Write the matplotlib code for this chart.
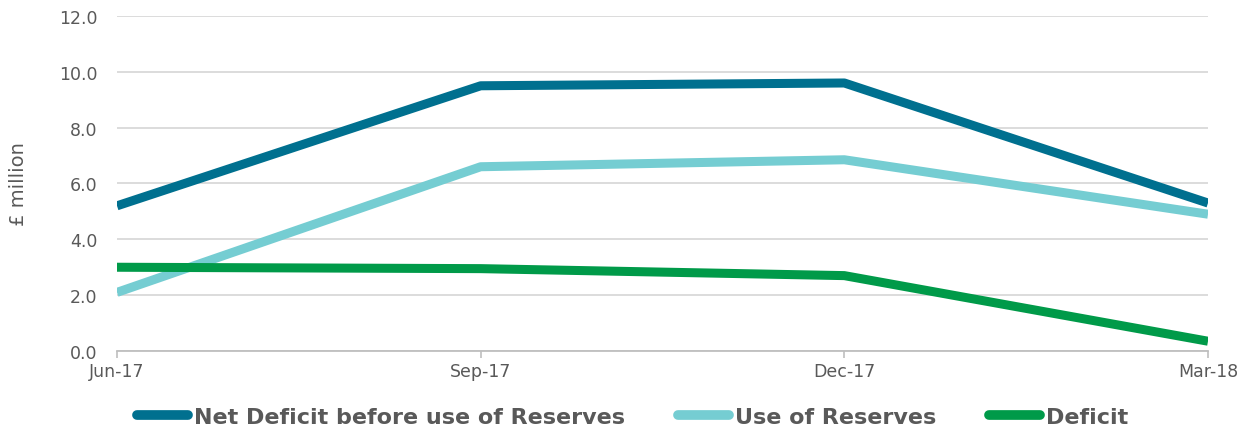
import matplotlib
matplotlib.use("Agg")
import matplotlib.pyplot as plt

categories = ["Jun-17", "Sep-17", "Dec-17", "Mar-18"]
net_deficit = [5.2, 9.5, 9.6, 5.3]
use_of_reserves = [2.1, 6.6, 6.85, 4.9]
deficit = [3.0, 2.95, 2.7, 0.35]
yticks = [0.0, 2.0, 4.0, 6.0, 8.0, 10.0, 12.0]

plt.rcParams['font.family'] = ['DejaVu Sans']

fig = plt.figure(figsize=(12.5, 4.31), dpi=100)
ax = fig.add_axes([0.0936, 0.1833, 0.8728, 0.7773])

x = list(range(len(categories)))
ax.plot(x, net_deficit, color="#00708F", lw=6.5, label="Net Deficit before use of Reserves", solid_capstyle="butt")
ax.plot(x, use_of_reserves, color="#75CDD2", lw=6.5, label="Use of Reserves", solid_capstyle="butt")
ax.plot(x, deficit, color="#009A49", lw=6.5, label="Deficit", solid_capstyle="butt")

ax.set_xlim(0, 3)
ax.set_ylim(0, 12)
ax.set_yticks(yticks)
ax.set_yticklabels([f"{v:.1f}" for v in yticks], color="#595959", fontsize=12.5)
ax.set_xticks(x)
ax.set_xticklabels(categories, color="#595959", fontsize=12.5)
ax.tick_params(axis='y', length=0, pad=14)
ax.tick_params(axis='x', length=5, color="#BFBFBF", width=1.2, pad=3)
ax.grid(axis='y', color="#D9D9D9", lw=1.3)
ax.set_axisbelow(True)
for s in ["top", "right", "left"]:
    ax.spines[s].set_visible(False)
ax.spines["bottom"].set_color("#BFBFBF")
ax.spines["bottom"].set_linewidth(1.3)
ax.set_ylabel("£ million", color="#595959", fontsize=14, labelpad=22)

leg = fig.legend(loc="center", bbox_to_anchor=(0.506, 0.03), ncol=3, frameon=False,
                 prop={'weight': 'bold', 'size': 16}, handlelength=2.3, handletextpad=0.25,
                 columnspacing=2.4)
for t in leg.get_texts():
    t.set_color("#595959")
for h in leg.get_lines():
    h.set_solid_capstyle("round")
    h.set_linewidth(7)

fig.savefig("out.png", dpi=100)
